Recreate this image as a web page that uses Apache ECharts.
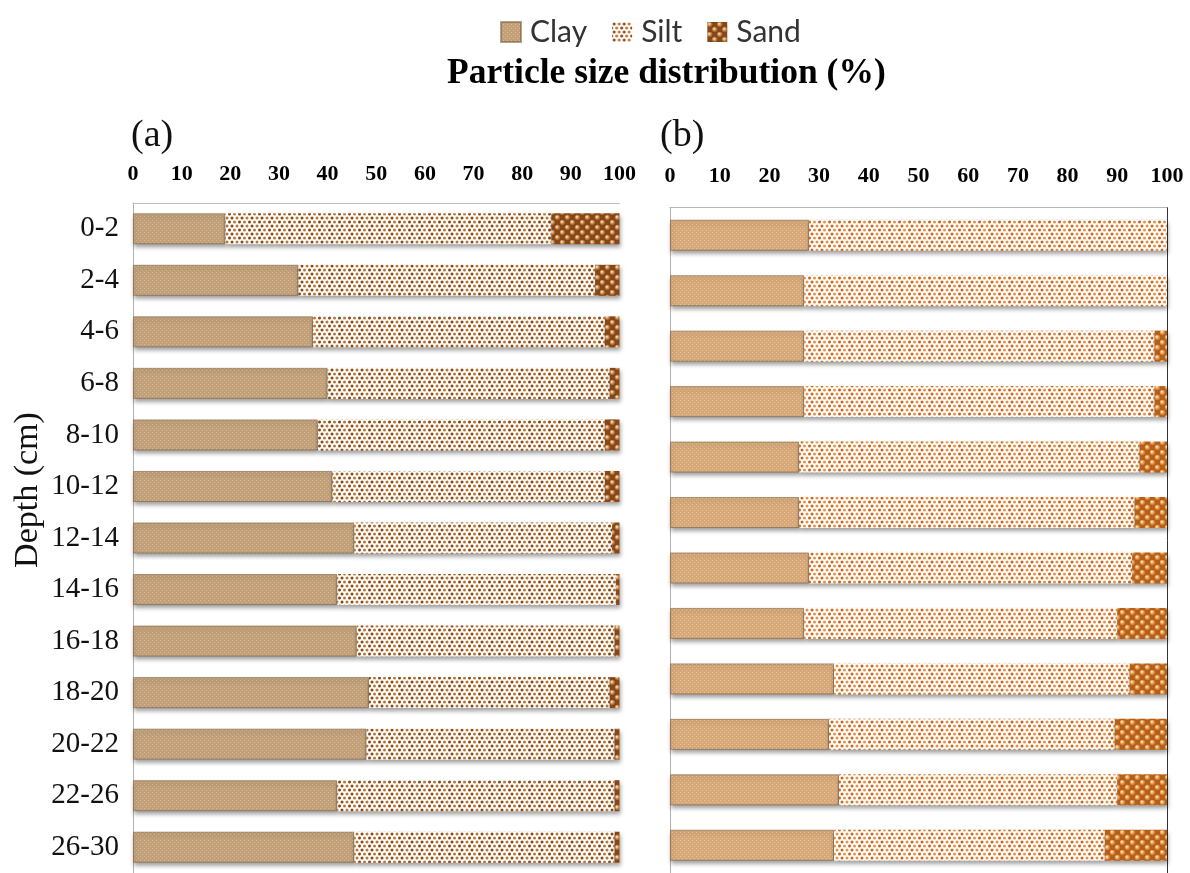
<!DOCTYPE html>
<html>
<head>
<meta charset="utf-8">
<title>Particle size distribution</title>
<script src="https://cdn.jsdelivr.net/npm/echarts@6/dist/echarts.min.js"></script>
<style>
  html, body { margin: 0; padding: 0; background: #ffffff; }
  #chart { width: 1190px; height: 873px; }
</style>
</head>
<body>
<div id="chart"></div>
<script>
// Depth intervals (cm)
const depthA = ['0-2', '2-4', '4-6', '6-8', '8-10', '10-12', '12-14', '14-16', '16-18', '18-20', '20-22', '22-26', '26-30'];
const depthB = ['0-2', '2-4', '4-6', '6-8', '8-10', '10-12', '12-14', '14-16', '16-18', '18-20', '20-22', '22-26'];

// Profile (a): clay / silt / sand percentages
const clayA = [19, 34, 37, 40, 38, 41, 45.5, 42, 46, 48.5, 48, 42, 45.5];
const siltA = [67, 61, 60, 58, 59, 56, 53, 57.3, 53, 49.5, 51, 57, 53.5];
const sandA = [14, 5, 3, 2, 3, 3, 1.5, 0.7, 1, 2, 1, 1, 1];

// Profile (b): clay / silt / sand percentages
const clayB = [28, 27, 27, 27, 26, 26, 28, 27, 33, 32, 34, 33];
const siltB = [72, 73, 70.5, 70.5, 68.5, 67.5, 65, 63, 59.5, 57.5, 56, 54.5];
const sandB = [0, 0, 2.5, 2.5, 5.5, 6.5, 7, 10, 7.5, 10.5, 10, 12.5];

const xTickInterval = 10;
const seriesNames = ['Clay', 'Silt', 'Sand'];

// ---- texture tiles for the bar fills ----
function tile(w, h, draw) {
  const c = document.createElement('canvas');
  c.width = w; c.height = h;
  draw(c.getContext('2d'), w, h);
  return { image: c, repeat: 'repeat' };
}

function clayTexture(bg, fleck) {
  return tile(4, 4, (g, w, h) => {
    g.fillStyle = bg; g.fillRect(0, 0, w, h);
    g.fillStyle = fleck; g.fillRect(0, 0, 1, 1); g.fillRect(2, 2, 1, 1);
  });
}

function siltTexture(dark, light) {
  return tile(10, 8, (g, w, h) => {
    g.fillStyle = '#ffffff'; g.fillRect(0, 0, w, h);
    const dots = [[2, 2, dark], [7, 2, light], [4.5, 6, light], [9.5, 6, dark], [-0.5, 6, dark]];
    dots.forEach(([x, y, col]) => {
      g.fillStyle = col;
      g.beginPath(); g.arc(x, y, 1.5, 0, Math.PI * 2); g.fill();
    });
  });
}

function sandTexture(bg, ball, rim, glint) {
  return tile(10, 10, (g, w, h) => {
    g.fillStyle = bg; g.fillRect(0, 0, w, h);
    [[2.5, 2.5], [7.5, 7.5]].forEach(([x, y]) => {
      const grd = g.createRadialGradient(x - 0.8, y - 0.8, 0.4, x, y, 3.4);
      grd.addColorStop(0, glint);
      grd.addColorStop(0.5, ball);
      grd.addColorStop(1, rim);
      g.fillStyle = grd;
      g.beginPath(); g.arc(x, y, 3.4, 0, Math.PI * 2); g.fill();
    });
  });
}

const fillA = {
  Clay: clayTexture('#c2a17a', '#d3b995'),
  Silt: siltTexture('#8a4714', '#b8762f'),
  Sand: sandTexture('#84461a', '#c2803f', '#7a3c10', '#f8dfb6')
};
const fillB = {
  Clay: clayTexture('#d7a979', '#e7c49d'),
  Silt: siltTexture('#c8661c', '#e39444'),
  Sand: sandTexture('#b45e1c', '#e29545', '#b05a18', '#fde2b8')
};

const shadow = {
  shadowColor: 'rgba(0,0,0,0.38)',
  shadowBlur: 4,
  shadowOffsetX: 1,
  shadowOffsetY: 3
};

function makeSeries(name, data, fill, gridIdx, stack) {
  const style = Object.assign({ color: fill }, shadow);
  if (name === 'Clay') {
    style.borderColor = 'rgba(120,90,55,0.55)';
    style.borderWidth = 1;
  }
  return {
    name: name,
    type: 'bar',
    stack: stack,
    xAxisIndex: gridIdx,
    yAxisIndex: gridIdx,
    barWidth: 31,
    data: data,
    itemStyle: style,
    emphasis: { disabled: true }
  };
}

const serif = '"Liberation Serif", "Times New Roman", serif';

const xAxisCommon = {
  type: 'value',
  position: 'top',
  min: 0,
  max: 100,
  interval: xTickInterval,
  axisTick: { show: false },
  splitLine: { show: false },
  axisLabel: {
    margin: 18,
    fontFamily: serif,
    fontWeight: 'bold',
    fontSize: 22,
    color: '#000'
  }
};

const chart = echarts.init(document.getElementById('chart'));

chart.setOption({
  animation: false,
  backgroundColor: '#ffffff',
  title: [
    {
      text: 'Particle size distribution (%)',
      left: 442, top: 51,
      textStyle: { fontFamily: serif, fontWeight: 'bold', fontSize: 35.5, color: '#000' }
    },
    {
      text: '(a)', left: 126, top: 112,
      textStyle: { fontFamily: serif, fontWeight: 'normal', fontSize: 38, color: '#111' }
    },
    {
      text: '(b)', left: 655, top: 112,
      textStyle: { fontFamily: serif, fontWeight: 'normal', fontSize: 38, color: '#111' }
    }
  ],
  legend: {
    data: seriesNames,
    left: 495,
    top: 12,
    itemWidth: 20,
    itemHeight: 20,
    itemGap: 25,
    icon: 'rect',
    textStyle: { fontFamily: 'Lato, "Open Sans", sans-serif', fontSize: 30, color: '#333', padding: [0, 0, 0, 4] }
  },
  graphic: [
    {
      type: 'text',
      x: 28, y: 490,
      rotation: Math.PI / 2,
      style: {
        text: 'Depth (cm)',
        font: '34px ' + serif,
        fill: '#111',
        align: 'center',
        verticalAlign: 'middle'
      }
    }
  ],
  grid: [
    { left: 133, top: 203, width: 486.5, height: 676 },
    { left: 670, top: 207.5, width: 497, height: 678 }
  ],
  xAxis: [
    Object.assign({}, xAxisCommon, {
      gridIndex: 0,
      axisLine: { show: true, lineStyle: { color: '#bdbdbd', width: 1 } }
    }),
    Object.assign({}, xAxisCommon, {
      gridIndex: 1,
      axisLabel: Object.assign({}, xAxisCommon.axisLabel, { margin: 20 }),
      axisLine: { show: true, lineStyle: { color: '#b5b5b5', width: 1 } }
    })
  ],
  yAxis: [
    {
      type: 'category',
      gridIndex: 0,
      data: depthA,
      inverse: true,
      axisTick: { show: false },
      axisLine: { show: true, lineStyle: { color: '#b0b0b0', width: 1 } },
      axisLabel: { margin: 14, fontFamily: serif, fontSize: 29, color: '#111' }
    },
    {
      type: 'category',
      gridIndex: 1,
      data: depthB,
      inverse: true,
      axisTick: { show: false },
      axisLine: { show: true, lineStyle: { color: '#b0b0b0', width: 1 } },
      axisLabel: { show: false }
    },
    {
      type: 'category',
      gridIndex: 1,
      position: 'right',
      data: depthB,
      inverse: true,
      axisTick: { show: false },
      axisLine: { show: true, lineStyle: { color: '#333', width: 1 } },
      axisLabel: { show: false }
    }
  ],
  series: [
    makeSeries('Clay', clayA, fillA.Clay, 0, 'a'),
    makeSeries('Silt', siltA, fillA.Silt, 0, 'a'),
    makeSeries('Sand', sandA, fillA.Sand, 0, 'a'),
    makeSeries('Clay', clayB, fillB.Clay, 1, 'b'),
    makeSeries('Silt', siltB, fillB.Silt, 1, 'b'),
    makeSeries('Sand', sandB, fillB.Sand, 1, 'b')
  ]
});
</script>
</body>
</html>
